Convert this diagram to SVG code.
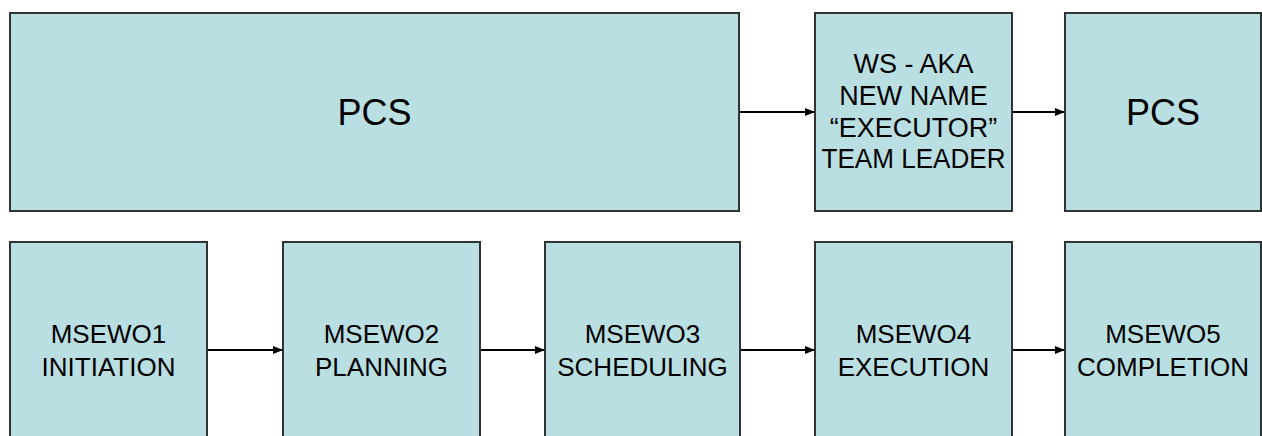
<svg xmlns="http://www.w3.org/2000/svg" width="1262" height="436" viewBox="0 0 1262 436">
<style>
.box{fill:#BADFE2;stroke:#2f3333;stroke-width:2}
.t{font-family:"Liberation Sans",Arial,sans-serif;fill:#000;text-anchor:middle}
.big{font-size:36px}
.mid{font-size:26px}
.ws{font-size:27px}
.c{stroke:#000;stroke-width:2;fill:none;marker-end:url(#ah)}
</style>
<defs>
<marker id="ah" markerWidth="10" markerHeight="8" refX="9" refY="4" orient="auto" markerUnits="userSpaceOnUse">
<path d="M0,0 L10,4 L0,8 Z" fill="#000"/>
</marker>
</defs>
<rect width="1262" height="436" fill="#fff"/>
<g id="pcs-top">
<rect class="box" x="10" y="13" width="729" height="198"/>
<text class="t big" x="374.5" y="125">PCS</text>
</g>
<g id="ws">
<rect class="box" x="815" y="13" width="197" height="198"/>
<text class="t ws" x="913.5" y="73">WS - AKA</text>
<text class="t ws" x="913.5" y="105">NEW NAME</text>
<text class="t ws" x="913.5" y="137">“EXECUTOR”</text>
<text class="t ws" x="913.5" y="168" textLength="184" lengthAdjust="spacingAndGlyphs">TEAM LEADER</text>
</g>
<g id="pcs-right">
<rect class="box" x="1065" y="13" width="196" height="198"/>
<text class="t big" x="1163" y="125">PCS</text>
</g>
<g id="msewo1">
<rect class="box" x="10" y="242" width="197" height="210"/>
<text class="t mid" x="108.5" y="342.5">MSEWO1</text>
<text class="t mid" x="108.5" y="375.5">INITIATION</text>
</g>
<g id="msewo2">
<rect class="box" x="283" y="242" width="197" height="210"/>
<text class="t mid" x="381.5" y="342.5">MSEWO2</text>
<text class="t mid" x="381.5" y="375.5">PLANNING</text>
</g>
<g id="msewo3">
<rect class="box" x="545" y="242" width="195" height="210"/>
<text class="t mid" x="642.5" y="342.5">MSEWO3</text>
<text class="t mid" x="642.5" y="375.5">SCHEDULING</text>
</g>
<g id="msewo4">
<rect class="box" x="815" y="242" width="197" height="210"/>
<text class="t mid" x="913.5" y="342.5">MSEWO4</text>
<text class="t mid" x="913.5" y="375.5">EXECUTION</text>
</g>
<g id="msewo5">
<rect class="box" x="1065" y="242" width="196" height="210"/>
<text class="t mid" x="1163" y="342.5">MSEWO5</text>
<text class="t mid" x="1163" y="375.5">COMPLETION</text>
</g>
<g id="connectors">
<line class="c" x1="740" y1="112" x2="814" y2="112"/>
<line class="c" x1="1013" y1="112" x2="1064" y2="112"/>
<line class="c" x1="208" y1="350" x2="282" y2="350"/>
<line class="c" x1="481" y1="350" x2="544" y2="350"/>
<line class="c" x1="741" y1="350" x2="814" y2="350"/>
<line class="c" x1="1013" y1="350" x2="1064" y2="350"/>
</g>
</svg>
